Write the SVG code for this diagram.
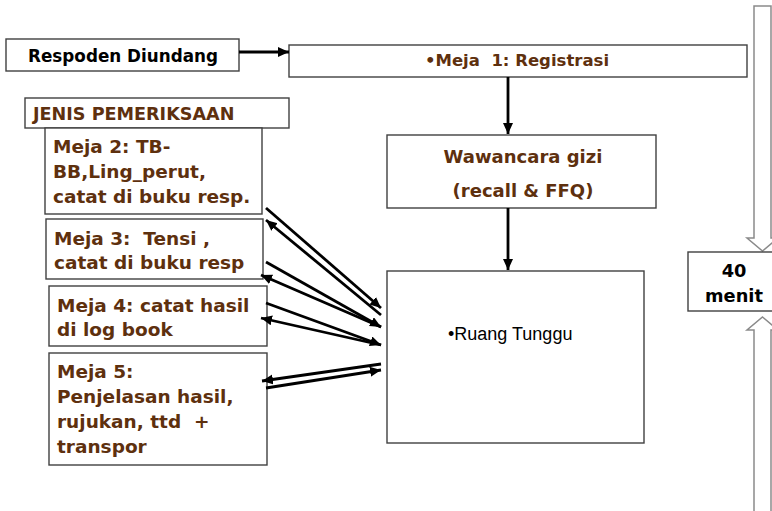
<svg xmlns="http://www.w3.org/2000/svg" width="772" height="511" viewBox="0 0 772 511">
  <defs>
    <marker id="head" markerUnits="userSpaceOnUse" markerWidth="12" markerHeight="11" refX="11" refY="5" orient="auto">
      <path d="M0,0 L11,5 L0,10 Z" fill="#000"/>
    </marker>
    <style>
      .box { fill: #fff; stroke: #404040; stroke-width: 1.4; }
      .big { fill: #fff; stroke: #8a8a8a; stroke-width: 1.5; }
      .lbl { font-family: "DejaVu Sans", Verdana, sans-serif; font-weight: bold; fill: #5e300e; }
      .blk { font-family: "DejaVu Sans", Verdana, sans-serif; font-weight: bold; fill: #000; }
      .plain { font-family: "Liberation Sans", Arial, sans-serif; fill: #000; }
      .pre { white-space: pre; }
      .link { stroke: #000; stroke-width: 2.8; fill: none; marker-end: url(#head); }
    </style>
  </defs>
  <rect width="772" height="511" fill="#fff"/>

  <!-- time span block arrows -->
  <g id="span">
    <path class="big" d="M754,6 L771,6 L771,238 L778,238 L762.5,251 L747,238 L754,238 Z"/>
    <path class="big" d="M762.5,317 L778,330 L771,330 L771,515 L754,515 L754,330 L747,330 Z"/>
  </g>

  <g id="respoden">
    <rect class="box" x="6" y="39" width="233" height="32"/>
    <text class="blk" x="123" y="62" font-size="16.8" text-anchor="middle">Respoden Diundang</text>
  </g>

  <g id="meja1">
    <rect class="box" x="289" y="45" width="458" height="32"/>
    <text class="lbl pre" xml:space="preserve" x="517" y="66" font-size="16.5" text-anchor="middle">•Meja  1: Registrasi</text>
  </g>

  <g id="jenis">
    <rect class="box" x="25" y="98" width="264" height="30"/>
    <text class="lbl" x="33" y="120" font-size="17.6">JENIS PEMERIKSAAN</text>
  </g>

  <g id="meja2">
    <rect class="box" x="45" y="128" width="217" height="86"/>
    <text class="lbl" font-size="18.5">
      <tspan x="53" y="153">Meja 2: TB-</tspan>
      <tspan x="53" y="178">BB,Ling_perut,</tspan>
      <tspan x="53" y="203">catat di buku resp.</tspan>
    </text>
  </g>

  <g id="meja3">
    <rect class="box" x="46" y="219" width="217" height="60"/>
    <text class="lbl pre" xml:space="preserve" x="54" y="245" font-size="18.5">Meja 3:  Tensi ,</text>
    <text class="lbl" x="54" y="269" font-size="18.5">catat di buku resp</text>
  </g>

  <g id="meja4">
    <rect class="box" x="49" y="286" width="218" height="60"/>
    <text class="lbl" font-size="18.5">
      <tspan x="57" y="312">Meja 4: catat hasil</tspan>
      <tspan x="57" y="336">di log book</tspan>
    </text>
  </g>

  <g id="meja5">
    <rect class="box" x="49" y="353" width="218" height="112"/>
    <text class="lbl" x="57" y="378" font-size="18.5">Meja 5:</text>
    <text class="lbl" x="57" y="403" font-size="18.5">Penjelasan hasil,</text>
    <text class="lbl pre" xml:space="preserve" x="57" y="428" font-size="18.5">rujukan, ttd  +</text>
    <text class="lbl" x="57" y="453" font-size="18.5">transpor</text>
  </g>

  <g id="wawancara">
    <rect class="box" x="387" y="135" width="269" height="73"/>
    <text class="lbl" x="523" y="163" font-size="18" text-anchor="middle">Wawancara gizi</text>
    <text class="lbl" x="523" y="197" font-size="18" text-anchor="middle">(recall &amp; FFQ)</text>
  </g>

  <g id="ruang">
    <rect class="box" x="387" y="271" width="257" height="172"/>
    <text class="plain" x="448" y="340" font-size="18">•Ruang Tunggu</text>
  </g>

  <g id="menit">
    <rect class="box" x="688" y="252" width="90" height="59"/>
    <text class="blk" x="734" y="277" font-size="17.8" text-anchor="middle">40</text>
    <text class="blk" x="734" y="302" font-size="17.8" text-anchor="middle">menit</text>
  </g>

  <!-- connectors -->
  <g id="connectors">
    <line class="link" x1="239" y1="52" x2="289" y2="52"/>
    <line class="link" x1="508" y1="77" x2="508" y2="134"/>
    <line class="link" x1="508" y1="208" x2="508" y2="270"/>

    <line class="link" x1="266" y1="208" x2="381" y2="308"/>
    <line class="link" x1="381" y1="315" x2="266" y2="220"/>
    <line class="link" x1="266" y1="262" x2="381" y2="327"/>
    <line class="link" x1="381" y1="327" x2="261" y2="275"/>
    <line class="link" x1="266" y1="303" x2="381" y2="345"/>
    <line class="link" x1="381" y1="345" x2="261" y2="318"/>
    <line class="link" x1="381" y1="364" x2="262" y2="381"/>
    <line class="link" x1="266" y1="388" x2="381" y2="370"/>
  </g>
</svg>
